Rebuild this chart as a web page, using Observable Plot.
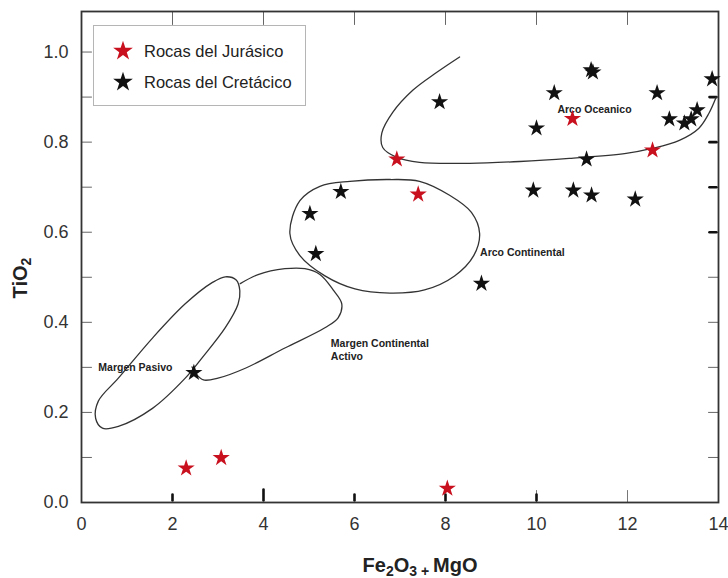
<!DOCTYPE html>
<html><head><meta charset="utf-8">
<script src="https://cdn.jsdelivr.net/npm/d3@7"></script>
<script src="https://cdn.jsdelivr.net/npm/@observablehq/plot@0.6"></script>
<style>
body{margin:0;background:#fff;font-family:Arial,"Liberation Sans",sans-serif}
#wrap{position:relative;width:728px;height:578px}
#legend{position:absolute;left:93px;top:25px}
</style></head><body><div id="wrap"></div>
<script>
// Samples: Jurassic rocks
const jurX = [2.30, 3.07, 8.04, 6.93, 7.40, 10.79, 12.55];
const jurY = [0.076, 0.099, 0.031, 0.762, 0.684, 0.852, 0.782];
// Samples: Cretaceous rocks
const creX = [2.47, 5.02, 5.15, 5.70, 7.87, 8.79, 10.00, 9.93, 10.39, 10.81, 11.10, 11.21, 11.20, 11.24, 12.65, 12.17, 12.92, 13.25, 13.40, 13.53, 13.86];
const creY = [0.288, 0.641, 0.552, 0.690, 0.889, 0.486, 0.831, 0.693, 0.909, 0.693, 0.762, 0.682, 0.960, 0.955, 0.909, 0.673, 0.851, 0.842, 0.851, 0.871, 0.940];

// Tectonic field outlines [Fe2O3+MgO, TiO2]
const fieldOceanico = [[8.31,0.989],[7.81,0.955],[7.28,0.915],[6.84,0.866],[6.60,0.820],[6.62,0.788],[6.93,0.766],[7.43,0.755],[8.53,0.753],[9.63,0.757],[10.72,0.764],[11.97,0.775],[12.54,0.786],[13.14,0.804],[13.57,0.831],[13.79,0.864],[13.95,0.900]];
const fieldContinental = [[4.58,0.597],[4.80,0.670],[5.24,0.702],[5.90,0.713],[6.78,0.717],[7.43,0.713],[8.09,0.682],[8.57,0.644],[8.75,0.597],[8.62,0.548],[8.20,0.503],[7.54,0.472],[6.78,0.465],[6.01,0.474],[5.35,0.503],[4.80,0.548]];
const fieldPasivo = [[3.16,0.501],[3.40,0.494],[3.48,0.470],[3.44,0.440],[3.16,0.388],[2.65,0.321],[2.28,0.276],[1.56,0.209],[0.81,0.169],[0.46,0.165],[0.31,0.187],[0.37,0.225],[0.81,0.276],[1.56,0.365],[2.28,0.441],[2.87,0.488]];
const fieldActivo = [[3.49,0.486],[3.88,0.506],[4.47,0.519],[4.91,0.519],[5.24,0.506],[5.53,0.472],[5.72,0.441],[5.64,0.410],[5.35,0.388],[4.47,0.343],[3.60,0.298],[3.00,0.276],[2.68,0.272],[2.52,0.285],[2.43,0.301]];

// Field labels
const fieldLabels = ["Arco Oceanico", "Arco Continental", "Margen Continental\nActivo", "Margen Pasivo"];
const fieldLabelX = [10.46, 8.76, 5.48, 0.37];
const fieldLabelY = [0.873, 0.556, 0.340, 0.302];

// Axes
const xTicks = [0, 2, 4, 6, 8, 10, 12, 14];
const yTicks = [0, 0.2, 0.4, 0.6, 0.8, 1.0];
const yMinor = [0.1, 0.2, 0.3, 0.4, 0.5, 0.6, 0.7, 0.8, 0.9, 1.0];
const xTopTicks = [2, 4, 6, 8, 10, 12];
const rightThin = [0.1, 0.2, 0.3, 0.4, 0.5];
const rightThick = [0.6, 0.7, 0.8, 0.9];
const bottomMarks = [2, 6, 8, 10];
const bottomMarksTall = [4];
const bottomThin = [10, 12];
const legendLabels = ["Rocas del Jurásico", "Rocas del Cretácico"];
const colors = ["#c8101e", "#111111"];

const jur = jurX.map((x, i) => ({x, y: jurY[i]}));
const cre = creX.map((x, i) => ({x, y: creY[i]}));
const labels = fieldLabels.map((t, i) => ({t, x: fieldLabelX[i], y: fieldLabelY[i]}));

const line = {draw(ctx, l) { ctx.moveTo(0, 0); ctx.lineTo(0, -l); }};
const gapLine = {draw(ctx, l) { ctx.moveTo(0, -2); ctx.lineTo(0, -l); }};
const FONT = 'Arial, "Liberation Sans", sans-serif';

const plot = Plot.plot({
  width: 728, height: 578,
  marginLeft: 81, marginRight: 10, marginTop: 11, marginBottom: 76,
  x: {domain: [0, 14]},
  y: {domain: [0, 1.09]},
  style: {fontFamily: FONT, fontSize: "18px", color: "#333", background: "#fff"},
  marks: [
    Plot.axisX(xTicks, {tickSize: 0, tickPadding: 15, label: null, fontSize: 18, fill: "#333"}),
    Plot.axisY(yTicks, {tickSize: 0, tickPadding: 13, tickFormat: d => d.toFixed(1), label: null, fontSize: 18, fill: "#333"}),
    Plot.vector(yMinor, {y: d => d, frameAnchor: "left", rotate: 90, length: 10, anchor: "start", shape: line, stroke: "#666", strokeWidth: 1}),
    Plot.vector(xTopTicks, {x: d => d, frameAnchor: "top", rotate: 180, length: 13, anchor: "start", shape: line, stroke: "#666", strokeWidth: 1}),
    Plot.vector(rightThin, {y: d => d, frameAnchor: "right", rotate: 270, length: 10, anchor: "start", shape: line, stroke: "#666", strokeWidth: 1}),
    Plot.vector(rightThick, {y: d => d, frameAnchor: "right", rotate: 270, length: 9, anchor: "start", shape: gapLine, stroke: "#111", strokeWidth: 2.6}),
    Plot.vector(bottomThin, {x: d => d, frameAnchor: "bottom", rotate: 0, length: 12, anchor: "start", shape: line, stroke: "#777", strokeWidth: 1}),
    Plot.vector(bottomMarks, {x: d => d, frameAnchor: "bottom", rotate: 0, length: 8, anchor: "start", shape: gapLine, stroke: "#111", strokeWidth: 2.6}),
    Plot.vector(bottomMarksTall, {x: d => d, frameAnchor: "bottom", rotate: 0, length: 13, anchor: "start", shape: gapLine, stroke: "#111", strokeWidth: 2.6}),
    Plot.frame({stroke: "#333", strokeWidth: 1.8}),
    Plot.line(fieldOceanico, {x: d => d[0], y: d => d[1], curve: "catmull-rom", stroke: "#333", strokeWidth: 1.3}),
    Plot.line(fieldContinental, {x: d => d[0], y: d => d[1], curve: "catmull-rom-closed", stroke: "#333", strokeWidth: 1.3}),
    Plot.line(fieldPasivo, {x: d => d[0], y: d => d[1], curve: "catmull-rom-closed", stroke: "#333", strokeWidth: 1.3}),
    Plot.line(fieldActivo, {x: d => d[0], y: d => d[1], curve: "catmull-rom", stroke: "#333", strokeWidth: 1.3}),
    Plot.text(labels, {x: "x", y: "y", text: "t", textAnchor: "start", fontWeight: "bold", fontSize: 10.5, fill: "#222", lineHeight: 1.2, lineAnchor: "middle"}),
    Plot.dot(cre, {x: "x", y: "y", symbol: "star", r: 5.4, fill: colors[1], stroke: "none"}),
    Plot.dot(jur, {x: "x", y: "y", symbol: "star", r: 5.4, fill: colors[0], stroke: "none"})
  ]
});

const wrap = document.getElementById("wrap");
wrap.appendChild(plot);
const svg = d3.select(plot);

// Axis titles with subscripts
const yt = svg.append("text").attr("transform", "translate(27,278) rotate(-90)")
  .attr("text-anchor", "middle").attr("font-family", FONT).attr("font-weight", "bold")
  .attr("font-size", 20).attr("fill", "#222");
yt.append("tspan").text("TiO");
yt.append("tspan").attr("font-size", 14).attr("dy", 4).text("2");

const xt = svg.append("text").attr("x", 420).attr("y", 572)
  .attr("text-anchor", "middle").attr("font-family", FONT).attr("font-weight", "bold")
  .attr("font-size", 20).attr("fill", "#222");
xt.append("tspan").text("Fe");
xt.append("tspan").attr("font-size", 14).attr("dy", 4).text("2");
xt.append("tspan").attr("dy", -4).text("O");
xt.append("tspan").attr("font-size", 14).attr("dy", 4).text("3 + ");
xt.append("tspan").attr("dy", -4).text("MgO");

// Legend
const lg = d3.select(wrap).append("svg").attr("id", "legend").attr("width", 214).attr("height", 82);
lg.append("rect").attr("x", 0.5).attr("y", 0.5).attr("width", 212).attr("height", 80)
  .attr("fill", "#fff").attr("stroke", "#b5b5b5");
const starPath = d3.symbol(d3.symbolStar, Math.PI * 6.2 * 6.2)();
legendLabels.forEach((t, i) => {
  const cy = 26 + i * 31;
  lg.append("path").attr("d", starPath).attr("transform", `translate(30,${cy})`).attr("fill", colors[i]);
  lg.append("text").attr("x", 51).attr("y", cy + 6).attr("font-family", FONT)
    .attr("font-size", 16.5).attr("fill", "#222").text(t);
});
</script></body></html>
